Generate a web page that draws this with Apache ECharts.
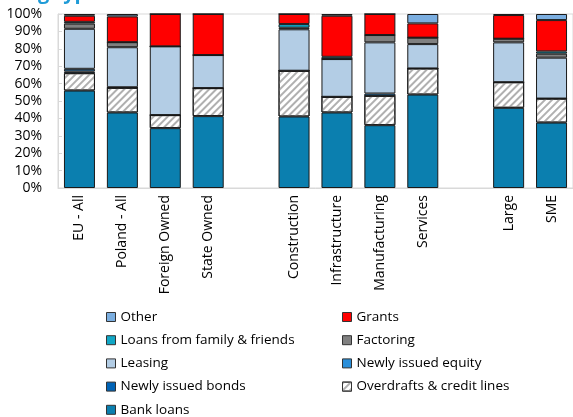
<!DOCTYPE html>
<html><head><meta charset="utf-8">
<script src="https://cdn.jsdelivr.net/npm/echarts@6/dist/echarts.min.js"></script>
<style>html,body{margin:0;padding:0;background:#fff}#c{width:573px;height:417px}</style>
</head><body><div id="c"></div>
<script>
var categories = ['EU - All','Poland - All','Foreign Owned','State Owned',' ','Construction','Infrastructure','Manufacturing','Services','  ','Large','SME'];
var yTicks = [0,10,20,30,40,50,60,70,80,90,100];
var bankLoans  = [56, 43.4, 34.4, 41.3, '-', 41.1, 43.4, 36.1, 53.7, '-', 46.1, 37.6];
var overdrafts = [10, 14.2, 7.5, 16.1, '-', 26.3, 9, 16.9, 15, '-', 14.7, 13.8];
var bonds      = [1, 0, 0, 0, '-', 0, 0, 0, 0, '-', 0, 0];
var equity     = [1.5, 0.3, 0, 0, '-', 0, 0, 1.3, 0, '-', 0, 0];
var leasing    = [23, 23, 39.5, 19, '-', 23.8, 21.7, 29.4, 14, '-', 22.9, 23.5];
var factoring  = [3, 2.9, 0, 0, '-', 0.9, 0, 4.2, 3.7, '-', 2.1, 2.3];
var family     = [1, 0, 0, 0, '-', 2.1, 1.3, 0, 0, '-', 0, 1.3];
var grants     = [3.5, 14.8, 18.6, 23.6, '-', 5.8, 23.6, 12.1, 8.2, '-', 13.6, 18];
var other      = [1, 1.4, 0, 0, '-', 0, 1, 0, 5.4, '-', 0.6, 3.5];

var FONT = 'Open Sans';
var defs = [
  ['Bank loans', bankLoans, '#0B7FAF'],
  ['Overdrafts & credit lines', overdrafts, '#ffffff'],
  ['Newly issued bonds', bonds, '#0063B6'],
  ['Newly issued equity', equity, '#2A8FDA'],
  ['Leasing', leasing, '#B3CDE5'],
  ['Factoring', factoring, '#808080'],
  ['Loans from family & friends', family, '#11A7C6'],
  ['Grants', grants, '#FF0000'],
  ['Other', other, '#7BAEE0']
];
var series = defs.map(function(d){
  var s = {name:d[0], type:'bar', stack:'all', data:d[1], barWidth:31,
    itemStyle:{color:d[2], borderColor:'#1a1a1a', borderWidth:1}};
  if (d[0]==='Overdrafts & credit lines') {
    s.itemStyle.decal = {symbol:'rect', symbolSize:1, dashArrayX:[1,0], dashArrayY:[2,3], rotation:-Math.PI/4, color:'#b0b0b0'};
  }
  return s;
});
var chart = echarts.init(document.getElementById('c'));
var legendText = {fontFamily:FONT, fontSize:13.5, color:'#000'};
var legendCommon = {orient:'vertical', top:310, padding:0, height:120, itemWidth:9, itemHeight:9, itemGap:9.2, textStyle:legendText, icon:'rect', itemStyle:{borderColor:'#333', borderWidth:1}};
chart.setOption({
  animation:false,
  title:{text:'Financing type', left:-52, top:-22, textStyle:{fontFamily:FONT, fontSize:20, fontWeight:'bold', color:'#1F9BD7'}},
  grid:{left:58, width:522, top:14, bottom:229, show:true, borderColor:'#d9d9d9', borderWidth:1},
  legend:[
    Object.assign({data:['Other','Loans from family & friends','Leasing','Newly issued bonds','Bank loans'], left:106}, legendCommon),
    Object.assign({data:['Grants','Factoring','Newly issued equity','Overdrafts & credit lines'], left:342}, legendCommon)
  ],
  xAxis:{type:'category', data:categories,
    axisLine:{lineStyle:{color:'#d9d9d9'}},
    axisTick:{inside:true, length:4, lineStyle:{color:'#d9d9d9'}},
    axisLabel:{rotate:90, fontFamily:FONT, fontSize:14, color:'#000', margin:7, interval:0}},
  yAxis:{type:'value', min:0, max:100, interval:10,
    axisLine:{show:true, lineStyle:{color:'#d9d9d9'}},
    axisTick:{show:true, inside:true, length:4, lineStyle:{color:'#d9d9d9'}},
    splitLine:{show:false},
    axisLabel:{formatter:function(v){return yTicks.indexOf(v)>=0 ? v+'%' : '';}, fontFamily:FONT, fontSize:14, color:'#000', margin:16}},
  series:series
});
</script></body></html>
